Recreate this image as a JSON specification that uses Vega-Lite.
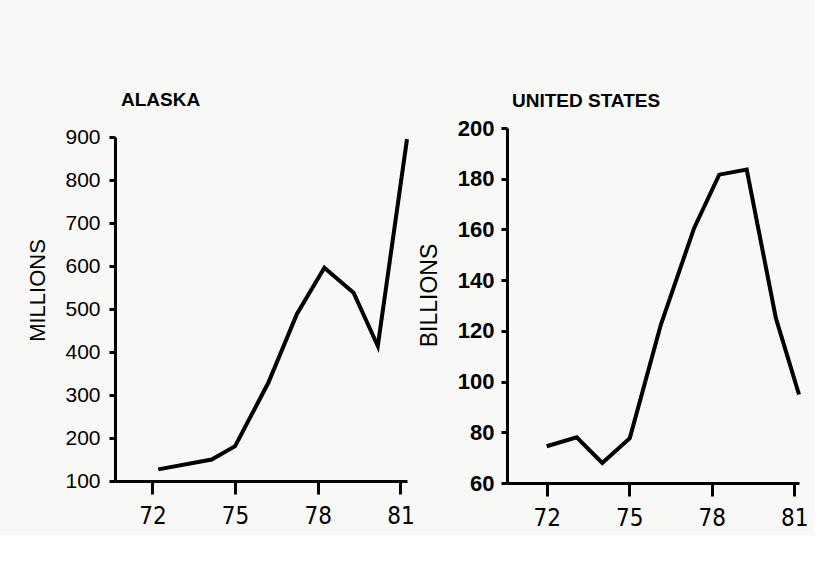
{
  "$schema": "https://vega.github.io/schema/vega-lite/v6.json",
  "background": "#f8f8f6",
  "padding": {"left": 26, "top": 91, "right": 5, "bottom": 5},
  "datasets": {
    "alaska": [
      {"year": 72.21, "value": 127},
      {"year": 74.15, "value": 150},
      {"year": 75.0, "value": 181},
      {"year": 76.21, "value": 329},
      {"year": 77.24, "value": 488},
      {"year": 78.24, "value": 596},
      {"year": 79.3, "value": 538},
      {"year": 80.18, "value": 414},
      {"year": 81.24, "value": 895}
    ],
    "us": [
      {"year": 72.0, "value": 74.5},
      {"year": 73.09, "value": 78.0},
      {"year": 74.02, "value": 67.9},
      {"year": 75.02, "value": 77.7},
      {"year": 76.15, "value": 122.5},
      {"year": 77.36, "value": 160.6},
      {"year": 78.27, "value": 181.6},
      {"year": 79.27, "value": 183.6},
      {"year": 80.33, "value": 125},
      {"year": 81.17, "value": 94.9}
    ]
  },
  "spacing": 3,
  "config": {
    "view": {"stroke": null},
    "axis": {
      "grid": false,
      "domainColor": "black",
      "domainWidth": 3,
      "tickColor": "black",
      "tickWidth": 3,
      "labelColor": "black",
      "titleColor": "black",
      "labelFont": "Liberation Sans",
      "titleFont": "Liberation Sans"
    },
    "title": {"font": "Liberation Sans", "fontWeight": "bold", "color": "black", "anchor": "start", "frame": "group"}
  },
  "hconcat": [
    {
      "width": 292,
      "height": 353,
      "title": {"text": "ALASKA", "fontSize": 19, "offset": 16, "dx": 6},
      "data": {"name": "alaska"},
      "mark": {"type": "line", "color": "black", "strokeWidth": 4, "strokeJoin": "miter", "clip": false},
      "encoding": {
        "x": {
          "field": "year", "type": "quantitative",
          "scale": {"domain": [70.64, 81.24], "nice": false, "zero": false},
          "axis": {"title": null, "values": [72, 75, 78, 81], "tickSize": 13, "labelPadding": 10, "labelFont": "DejaVu Sans Condensed, Roboto Condensed, Liberation Sans", "labelFontSize": 24, "labelFlush": false}
        },
        "y": {
          "field": "value", "type": "quantitative",
          "scale": {"domain": [100, 900], "nice": false, "zero": false, "rangeMax": 9},
          "axis": {"title": "MILLIONS", "values": [100, 200, 300, 400, 500, 600, 700, 800, 900], "tickSize": 6, "labelPadding": 9, "labelFontSize": 21, "titleFontSize": 22, "titleFontWeight": "normal", "titleX": -66, "titleY": 162}
        }
      }
    },
    {
      "width": 292,
      "height": 355,
      "title": {"text": "UNITED STATES", "fontSize": 19, "offset": 6, "dx": 5},
      "data": {"name": "us"},
      "mark": {"type": "line", "color": "black", "strokeWidth": 4, "strokeJoin": "miter", "clip": false},
      "encoding": {
        "x": {
          "field": "year", "type": "quantitative",
          "scale": {"domain": [70.556, 81.17], "nice": false, "zero": false},
          "axis": {"title": null, "values": [72, 75, 78, 81], "tickSize": 13, "labelPadding": 10, "labelFont": "DejaVu Sans Condensed, Roboto Condensed, Liberation Sans", "labelFontSize": 24, "labelFlush": false}
        },
        "y": {
          "field": "value", "type": "quantitative",
          "scale": {"domain": [60, 200], "nice": false, "zero": false},
          "axis": {"title": "BILLIONS", "values": [60, 80, 100, 120, 140, 160, 180, 200], "tickSize": 6, "labelPadding": 7, "labelFontSize": 22, "labelFontWeight": "bold", "titleFontSize": 23, "titleFontWeight": "normal", "titleX": -66, "titleY": 167}
        }
      }
    }
  ]
}
